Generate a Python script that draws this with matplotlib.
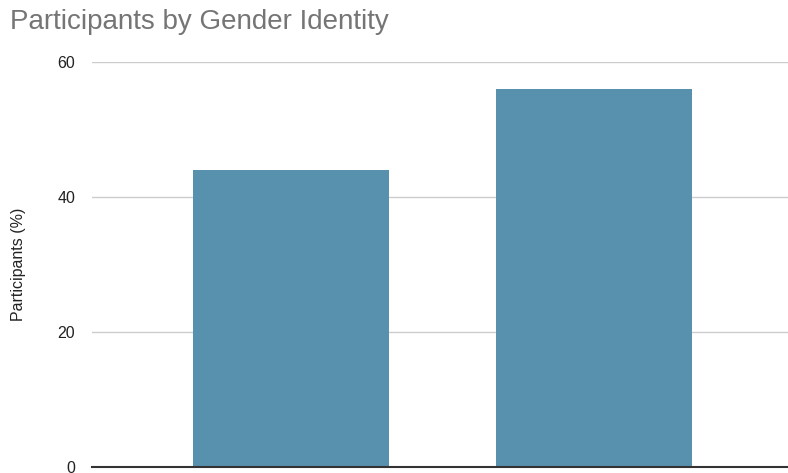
import numpy as np
import matplotlib.pyplot as plt

plt.rcParams['font.family'] = ['Liberation Sans', 'DejaVu Sans']

# data
categories = ['Female', 'Male']
participants = [44, 56]
yticks = [0, 20, 40, 60]

fig = plt.figure(figsize=(7.88, 4.73), dpi=100)
ax = fig.add_axes([92 / 788, 6 / 473, 1 - 92 / 788, (467 - 62) / 473])

x = np.arange(len(categories))
ax.bar(x, participants, width=0.647, color='#5891AE', zorder=3)

ax.set_xlim(-0.657, 1.64)
ax.set_ylim(0, 60)
ax.set_yticks(yticks)
ax.set_xticks(x)
ax.set_xticklabels([])
ax.tick_params(axis='both', length=0)
ax.tick_params(axis='y', labelsize=11.5, pad=12, labelcolor='#222222')

ax.grid(axis='y', color='#cccccc', linewidth=1, zorder=0)
for side in ['top', 'right', 'left']:
    ax.spines[side].set_visible(False)
ax.spines['bottom'].set_color('#333333')
ax.spines['bottom'].set_linewidth(1.5)
ax.spines['bottom'].set_zorder(4)

ax.set_ylabel('Participants (%)', fontsize=11.5, color='#222222')
ax.yaxis.set_label_coords(-(92 - 26) / 696, 0.5)

fig.text(10 / 788, 1 - 22 / 473, 'Participants by Gender Identity',
         fontsize=20, color='#757575', va='center', ha='left')

fig.savefig('out.png', dpi=100)
